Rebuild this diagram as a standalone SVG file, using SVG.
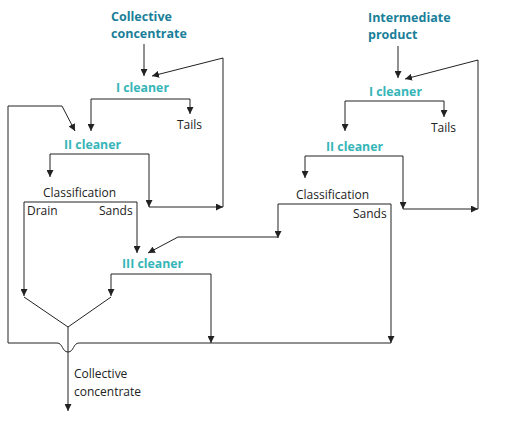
<svg xmlns="http://www.w3.org/2000/svg" width="512" height="424" viewBox="0 0 512 424">
<style>
.t{font-family:"Open Sans","Noto Sans",sans-serif;font-size:12px;fill:#222}
.h{font-family:"Open Sans","Noto Sans",sans-serif;font-size:12.5px;font-weight:bold;fill:#1a7f9a}
.c{font-family:"Open Sans","Noto Sans",sans-serif;font-size:12.3px;font-weight:bold;fill:#36b5b8}
.l{fill:none;stroke:#222;stroke-width:1}
.a{fill:none;stroke:#222;stroke-width:1;marker-end:url(#ar)}
</style>
<defs>
<marker id="ar" viewBox="0 0 10 10" refX="10" refY="5" markerWidth="7" markerHeight="7" markerUnits="userSpaceOnUse" orient="auto">
<path d="M0,0L10,5L0,10z" fill="#222"/>
</marker>
</defs>
<rect width="512" height="424" fill="#fff"/>
<g id="feed-left"><text class="h" x="111" y="21">Collective</text><text class="h" x="111" y="38">concentrate</text></g>
<g id="feed-right"><text class="h" x="368" y="22">Intermediate</text><text class="h" x="368" y="39">product</text></g>
<g id="cleaner1-left"><text class="c" x="116" y="92">I cleaner</text></g>
<g id="tails-left"><text class="t" x="177" y="129">Tails</text></g>
<g id="cleaner2-left"><text class="c" x="64" y="149">II cleaner</text></g>
<g id="class-left"><text class="t" x="43" y="197">Classification</text><text class="t" x="27" y="215">Drain</text><text class="t" x="99" y="215">Sands</text></g>
<g id="cleaner3"><text class="c" x="122" y="268">III cleaner</text></g>
<g id="cleaner1-right"><text class="c" x="369" y="96">I cleaner</text></g>
<g id="tails-right"><text class="t" x="431" y="132">Tails</text></g>
<g id="cleaner2-right"><text class="c" x="326" y="151">II cleaner</text></g>
<g id="class-right"><text class="t" x="296" y="199">Classification</text><text class="t" x="353" y="218">Sands</text></g>
<g id="product"><text class="t" x="74" y="378">Collective</text><text class="t" x="74" y="396">concentrate</text></g>
<g id="connectors">
<path class="a" d="M144,44V76"/>
<path class="a" d="M223,58L152,76"/>
<path class="a" d="M149,207H223"/>
<path class="l" d="M223,207V58"/>
<path class="l" d="M91,99H190"/>
<path class="a" d="M91,99V131"/>
<path class="a" d="M190,99V114"/>
<path class="a" d="M8,106H62L75,131"/>
<path class="l" d="M8,106V343H57C63,343 62,352 68,352C74,352 73,343 79,343H391"/>
<path class="l" d="M50,154H149"/>
<path class="a" d="M50,154V177"/>
<path class="a" d="M149,154V207"/>
<path class="l" d="M24,202H137"/>
<path class="a" d="M24,202V296"/>
<path class="a" d="M137,202V253"/>
<path class="l" d="M24,297L68,327L111,297"/>
<path class="l" d="M111,274H211"/>
<path class="a" d="M111,274V296"/>
<path class="a" d="M211,274V343"/>
<path class="a" d="M68,327V411"/>
<path class="a" d="M278,237H178L148,253"/>
<path class="l" d="M278,204H391"/>
<path class="a" d="M278,204V238"/>
<path class="a" d="M391,204V343"/>
<path class="a" d="M398,46V78"/>
<path class="a" d="M478,60L405,79"/>
<path class="a" d="M403,209H478"/>
<path class="l" d="M478,209V60"/>
<path class="l" d="M345,101H444"/>
<path class="a" d="M345,101V131"/>
<path class="a" d="M444,101V117"/>
<path class="l" d="M305,156H403"/>
<path class="a" d="M305,156V178"/>
<path class="a" d="M403,156V209"/>
</g>
</svg>
